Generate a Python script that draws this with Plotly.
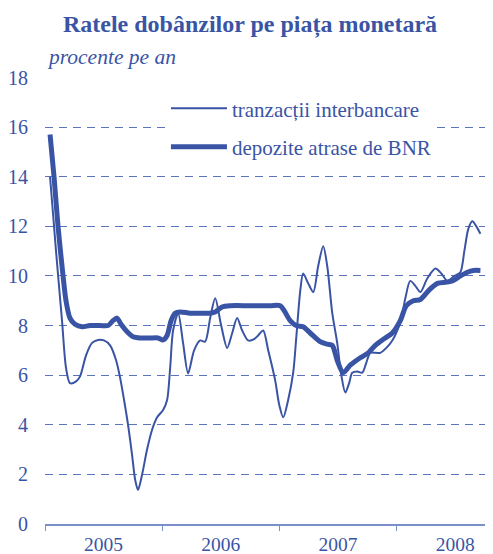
import pandas as pd
import plotly.graph_objects as go

# ------------------------------------------------------------------
# data (time as decimal year, rates in % p.a.)
ani_interbancar = [2005.043, 2005.094, 2005.145, 2005.179, 2005.213, 2005.265, 2005.299, 2005.350,
                   2005.401, 2005.452, 2005.503, 2005.555, 2005.606, 2005.640, 2005.674, 2005.708,
                   2005.742, 2005.768, 2005.793, 2005.828, 2005.870, 2005.913, 2005.956, 2006.007,
                   2006.041, 2006.067, 2006.092, 2006.135, 2006.177, 2006.220, 2006.271, 2006.323,
                   2006.365, 2006.408, 2006.451, 2006.502, 2006.553, 2006.596, 2006.638, 2006.681,
                   2006.732, 2006.783, 2006.817, 2006.860, 2006.903, 2006.962, 2006.997, 2007.031,
                   2007.073, 2007.116, 2007.142, 2007.176, 2007.201, 2007.244, 2007.287, 2007.329,
                   2007.372, 2007.406, 2007.449, 2007.491, 2007.526, 2007.560, 2007.594, 2007.619,
                   2007.662, 2007.705, 2007.739, 2007.773, 2007.824, 2007.858, 2007.910, 2007.961,
                   2008.003, 2008.038, 2008.072, 2008.114, 2008.157, 2008.200, 2008.259, 2008.328,
                   2008.379, 2008.430, 2008.490, 2008.541, 2008.575, 2008.609, 2008.643, 2008.677,
                   2008.712]
tranzactii = [14.0, 11.0, 8.2, 6.3, 5.68, 5.75, 5.95, 6.8,
              7.3, 7.42, 7.4, 7.2, 6.6, 5.9, 5.0, 4.0,
              2.8, 1.8, 1.37, 2.0, 3.0, 3.8, 4.3, 4.6,
              5.0, 6.3, 7.8, 8.5, 7.3, 6.07, 7.0, 7.4,
              7.35, 8.3, 9.1, 8.0, 7.1, 7.7, 8.3, 7.8,
              7.4, 7.45, 7.6, 7.8, 7.0, 5.8, 4.8, 4.3,
              5.0, 6.1, 7.5, 9.4, 10.1, 9.7, 9.35, 10.4,
              11.2, 10.4, 8.5, 7.3, 6.0, 5.3, 5.7, 6.1,
              6.15, 6.1, 6.5, 6.9, 6.9, 6.9, 7.1, 7.4,
              7.8, 8.3, 9.1, 9.8, 9.6, 9.35, 9.9, 10.3,
              10.1, 9.8, 10.0, 10.15, 11.0, 11.9, 12.2, 12.0,
              11.7]

ani_bnr = [2005.043, 2005.077, 2005.111, 2005.154, 2005.179, 2005.213, 2005.256, 2005.316,
           2005.384, 2005.469, 2005.538, 2005.580, 2005.614, 2005.648, 2005.700, 2005.751,
           2005.811, 2005.896, 2005.964, 2006.007, 2006.041, 2006.075, 2006.109, 2006.152,
           2006.237, 2006.323, 2006.408, 2006.451, 2006.510, 2006.578, 2006.749, 2006.920,
           2007.005, 2007.039, 2007.090, 2007.142, 2007.201, 2007.261, 2007.346, 2007.406,
           2007.449, 2007.491, 2007.543, 2007.602, 2007.688, 2007.756, 2007.816, 2007.901,
           2007.961, 2008.029, 2008.080, 2008.140, 2008.200, 2008.268, 2008.345, 2008.422,
           2008.473, 2008.541, 2008.601, 2008.652, 2008.712]
depozite_bnr = [15.7, 14.0, 12.0, 10.0, 9.0, 8.3, 8.05, 7.95,
                8.0, 8.0, 8.0, 8.2, 8.3, 8.05, 7.75, 7.55,
                7.5, 7.5, 7.5, 7.42, 7.6, 8.2, 8.5, 8.55,
                8.5, 8.5, 8.5, 8.55, 8.75, 8.8, 8.8, 8.8,
                8.8, 8.6, 8.2, 8.0, 7.95, 7.7, 7.35, 7.25,
                7.2, 6.6, 6.1, 6.4, 6.7, 6.9, 7.2, 7.5,
                7.7, 8.2, 8.8, 9.0, 9.05, 9.4, 9.7, 9.75,
                9.8, 10.0, 10.15, 10.22, 10.22]

titlu = 'Ratele dobânzilor pe piața monetară'
unitate = 'procente pe an'

albastru = '#3a54a5'
ax_color = '#7b8fca'
grid_color = '#5b74bd'
font_fam = 'Liberation Serif, Times New Roman, serif'


def to_dates(ani):
    # decimal year -> timestamp
    start = pd.Timestamp('2005-01-01')
    return [start + pd.to_timedelta((a - 2005) * 365.25, unit='D') for a in ani]


fig = go.Figure()

fig.add_trace(go.Scatter(
    x=to_dates(ani_interbancar), y=tranzactii,
    name='tranzacții interbancare', mode='lines', legendgroup='a',
    line=dict(color=albastru, width=2, shape='spline', smoothing=0.8)))

fig.add_trace(go.Scatter(
    x=to_dates(ani_bnr), y=depozite_bnr,
    name='depozite atrase de BNR', mode='lines', legendgroup='b',
    line=dict(color=albastru, width=5, shape='spline', smoothing=0.8)))

# page body adds an 8px offset, so everything is placed 8px up/left
fig.update_layout(
    width=485, height=554,
    margin=dict(l=37, r=0, t=69, b=38, autoexpand=False),
    paper_bgcolor='white', plot_bgcolor='white',
    font=dict(family=font_fam, color=albastru, size=20),
    title=dict(text='<b>' + titlu + '</b>', x=0.499, xanchor='center',
               xref='container', yref='container',
               y=1 - 16 / 554, yanchor='middle', font=dict(size=24, color=albastru)),
    showlegend=True,
    legend=dict(x=0.27, y=0.975, xanchor='left', yanchor='top',
                bgcolor='white', borderwidth=0, tracegroupgap=8, itemwidth=56,
                font=dict(size=21, color=albastru), traceorder='grouped'),
    xaxis=dict(type='date', range=['2005-01-01', '2008-10-27'], automargin=False,
               tick0='2005-01-01', dtick='M12', tickformat='%Y',
               ticklabelmode='period', ticks='outside', ticklen=5,
               ticklabelstandoff=-3,
               tickcolor=ax_color, showline=True, linecolor=ax_color,
               linewidth=1.5, showgrid=False, zeroline=False,
               tickfont=dict(size=19.5)),
    yaxis=dict(range=[0, 18.02], tick0=0, dtick=2, showgrid=True, automargin=False,
               gridcolor=grid_color, griddash='8px,6px', gridwidth=1,
               zeroline=False, showline=False, ticks='',
               ticklabelstandoff=16, tickfont=dict(size=20)),
    annotations=[dict(text='<i>' + unitate + '</i>', xref='paper', yref='paper',
                      x=0.0, y=1.045, xanchor='left', yanchor='middle',
                      showarrow=False, font=dict(size=21.5, color=albastru))]
)

fig.write_html('out.html')
